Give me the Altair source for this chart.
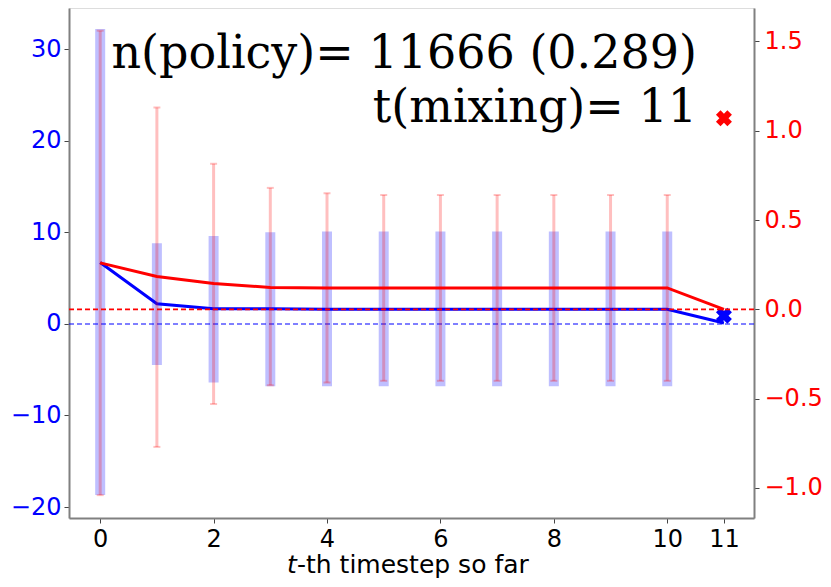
import altair as alt
import pandas as pd

steps = list(range(12))
blue_mean = [6.7, 2.2, 1.65, 1.65, 1.6, 1.6, 1.6, 1.6, 1.6, 1.6, 1.6, 0.1]
blue_hi = [32.2, 8.8, 9.6, 10.0, 10.1, 10.1, 10.1, 10.1, 10.1, 10.1, 10.1]
blue_lo = [-18.7, -4.5, -6.4, -6.8, -6.8, -6.8, -6.8, -6.8, -6.8, -6.8, -6.8]
red_mean = [0.26, 0.184, 0.145, 0.123, 0.12, 0.12, 0.12, 0.12, 0.12, 0.12, 0.12, 0.0]
red_hi = [1.56, 1.13, 0.815, 0.68, 0.65, 0.64, 0.64, 0.64, 0.64, 0.64, 0.64]
red_lo = [-1.04, -0.77, -0.53, -0.425, -0.41, -0.40, -0.40, -0.40, -0.40, -0.40, -0.40]
blue_final = 0.9
red_final = 1.07
final_step = 11
x_ticks = [0, 2, 4, 6, 8, 10, 11]
blue_ticks = [-20, -10, 0, 10, 20, 30]
red_ticks = [-1.0, -0.5, 0.0, 0.5, 1.0, 1.5]

line_df = pd.DataFrame({"t": steps, "blue": blue_mean, "red": red_mean})
bar_df = pd.DataFrame({"t": steps[:11], "blo": blue_lo, "bhi": blue_hi,
                       "rlo": red_lo, "rhi": red_hi})
final_df = pd.DataFrame({"t": [final_step], "blue": [blue_final], "red": [red_final]})
one_df = pd.DataFrame({"z": [0]})

W, H = 685, 510
xscale = alt.Scale(domain=[-0.55, 11.53], nice=False, zero=False)
xaxis = alt.Axis(values=x_ticks, title=None, grid=False, labelFontSize=24,
                 labelFont="DejaVu Sans", labelColor="black", tickSize=5,
                 labelPadding=4, domainColor="#808080", domainWidth=2,
                 tickColor="#444444", labelFlush=False)
bscale = alt.Scale(domain=[-21.2, 34.5], nice=False, zero=False)
baxis = alt.Axis(values=blue_ticks, title=None, grid=False, orient="left",
                 labelFontSize=24, labelFont="DejaVu Sans", labelColor="#0000ff",
                 tickSize=5, labelPadding=3, domainColor="#808080", domainWidth=2,
                 tickColor="#444444")
rscale = alt.Scale(domain=[-1.168, 1.687], nice=False, zero=False)
raxis = alt.Axis(values=red_ticks, format=".1f", title=None, grid=False, orient="right",
                 labelFontSize=24, labelFont="DejaVu Sans", labelColor="#ff0000",
                 tickSize=5, labelPadding=5, domainColor="#808080", domainWidth=2,
                 tickColor="#444444")

X = alt.X("t:Q", scale=xscale, axis=xaxis)

b_bars = alt.Chart(bar_df).mark_rule(strokeWidth=10, color="#0000ff", opacity=0.25).encode(
    x=X, y=alt.Y("blo:Q", scale=bscale, axis=baxis), y2="bhi:Q")
b_zero = alt.Chart(one_df).mark_rule(color="#0000ff", opacity=0.5, strokeWidth=2,
                                     strokeDash=[5, 3]).encode(y=alt.datum(0))
b_line = alt.Chart(line_df).mark_line(color="#0000ff", strokeWidth=3).encode(
    x=X, y=alt.Y("blue:Q", scale=bscale, axis=baxis))
b_x = alt.Chart(final_df).mark_point(shape="cross", angle=45, filled=True, size=260,
                                     color="#0000ff", opacity=1).encode(
    x=X, y=alt.Y("blue:Q", scale=bscale, axis=baxis))
blue_group = alt.layer(b_bars, b_zero, b_line, b_x)

r_bars = alt.Chart(bar_df).mark_rule(strokeWidth=3, color="#ff0000", opacity=0.25).encode(
    x=X, y=alt.Y("rlo:Q", scale=rscale, axis=raxis), y2="rhi:Q")
r_cap_hi = alt.Chart(bar_df).mark_tick(orient="horizontal", size=7, thickness=2,
                                       color="#ff0000", opacity=0.25).encode(
    x=X, y=alt.Y("rhi:Q", scale=rscale, axis=raxis))
r_cap_lo = alt.Chart(bar_df).mark_tick(orient="horizontal", size=7, thickness=2,
                                       color="#ff0000", opacity=0.25).encode(
    x=X, y=alt.Y("rlo:Q", scale=rscale, axis=raxis))
r_zero = alt.Chart(one_df).mark_rule(stroke="#ff0000", strokeWidth=1.6, opacity=1,
                                     strokeDash=[5, 3]).encode(y=alt.datum(0))
r_line = alt.Chart(line_df).mark_line(color="#ff0000", strokeWidth=3).encode(
    x=X, y=alt.Y("red:Q", scale=rscale, axis=raxis))
r_x = alt.Chart(final_df).mark_point(shape="cross", angle=45, filled=True, size=260,
                                     color="#ff0000", opacity=1).encode(
    x=X, y=alt.Y("red:Q", scale=rscale, axis=raxis))

ann = pd.DataFrame({"s": ["n(policy)= 11666 (0.289)", "t(mixing)= 11"]})
t1 = alt.Chart(ann.iloc[[0]]).mark_text(font="DejaVu Serif", fontSize=46, align="right",
                                        baseline="alphabetic", color="black").encode(
    text="s:N", x=alt.value(628), y=alt.value(60))
t2 = alt.Chart(ann.iloc[[1]]).mark_text(font="DejaVu Serif", fontSize=46, align="right",
                                        baseline="alphabetic", color="black").encode(
    text="s:N", x=alt.value(628), y=alt.value(114))

xl = pd.DataFrame({"a": ["t"], "b": ["-th timestep so far"]})
xl1 = alt.Chart(xl).mark_text(font="DejaVu Sans", fontSize=25, fontStyle="italic",
                              align="left", baseline="alphabetic", color="black").encode(
    text="a:N", x=alt.value(218), y=alt.value(565))
xl2 = alt.Chart(xl).mark_text(font="DejaVu Sans", fontSize=25,
                              align="left", baseline="alphabetic", color="black").encode(
    text="b:N", x=alt.value(228), y=alt.value(565))

red_group = alt.layer(r_bars, r_cap_hi, r_cap_lo, r_zero, r_line, r_x, t1, t2, xl1, xl2)

chart = alt.layer(blue_group, red_group).resolve_scale(y="independent").properties(
    width=W, height=H,
    autosize=alt.AutoSizeParams(type="none"),
    padding={"left": 61, "top": 0, "right": 69, "bottom": 61},
).configure_view(stroke="#808080", strokeWidth=2).configure(background="white")

chart.save("out.html", embed_options={"renderer": "svg", "actions": False})
